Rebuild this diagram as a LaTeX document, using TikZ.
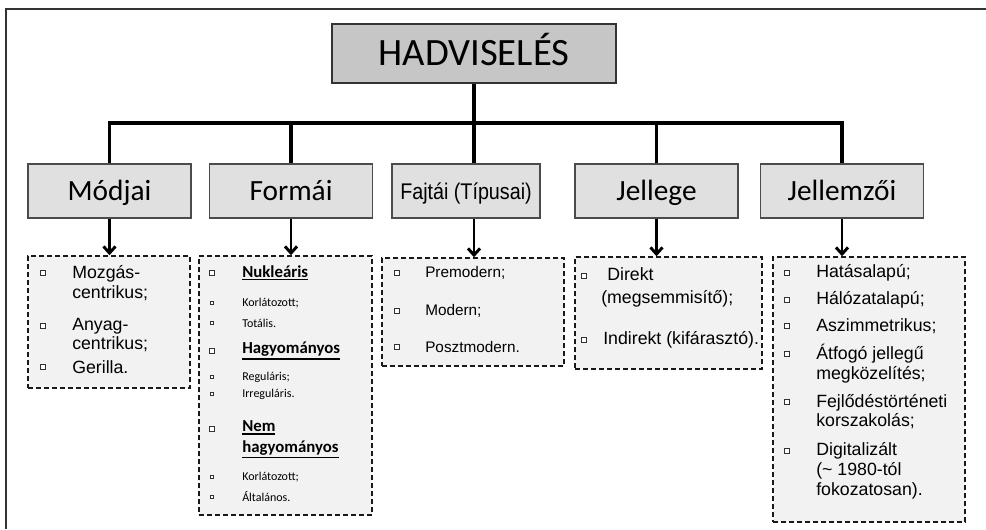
\documentclass[tikz,border=0pt]{standalone}
\usepackage{fontspec}
\setmainfont{Liberation Sans}
\newfontfamily\calfont{Carlito}
\newfontfamily\narrowfont[FakeStretch=0.87]{Liberation Sans}
\newcommand{\thickul}[1]{\vtop{\hbox{#1}\kern1pt\hrule height 1.1pt}}
\usetikzlibrary{arrows.meta, shadows}
\definecolor{topgray}{RGB}{198,198,198}
\definecolor{catgray}{RGB}{224,224,224}
\definecolor{listgray}{RGB}{242,242,242}
\definecolor{edgegray}{RGB}{75,75,75}
\tikzstyle{topbox} = [rectangle, draw = black!80, fill = topgray, line width = 1.5pt, minimum width = 213pt, minimum height = 44pt, inner sep = 0pt, text height = 21pt, text depth = 3pt, font = \calfont\fontsize{29}{34}\selectfont, drop shadow = {shadow xshift = 1pt, shadow yshift = -1pt, opacity = 1, fill = black!70}]
\tikzstyle{catbox} = [rectangle, draw = edgegray, fill = catgray, line width = 1.1pt, minimum width = 122pt, minimum height = 40.5pt, inner sep = 0pt, text height = 16.5pt, text depth = 2.4pt, font = \calfont\fontsize{22}{26}\selectfont]
\tikzstyle{listbox} = [rectangle, draw = black!90, fill = listgray, dash pattern = on 3.5pt off 2.5pt, line width = 1.1pt, inner sep = 0pt]
\tikzstyle{bul} = [rectangle, draw = black!80, fill = white, line width = 0.6pt, minimum size = 3.4pt, inner sep = 0pt]
\tikzstyle{sbul} = [bul, minimum size = 2.7pt]
\tikzstyle{itm} = [anchor = west, inner sep = 0pt, align = left, font = \fontsize{13.3}{14.8}\selectfont]
\tikzstyle{fitm} = [itm, font = \fontsize{11.5}{14}\selectfont]
\tikzstyle{headitem} = [itm, font = \calfont\bfseries\fontsize{12.6}{15.75}\selectfont]
\tikzstyle{subitem} = [itm, font = \calfont\fontsize{9}{11}\selectfont]
\tikzstyle{conn} = [line width = 2.4pt]
\tikzstyle{arr} = [line width = 2.2pt, -{Straight Barb[length = 5pt, width = 9pt]}]

\begin{document}
\begin{tikzpicture}[x = 0.75pt, y = -0.75pt]
    \useasboundingbox (0, 0) rectangle (986, 529);
    \draw [line width = 0.9pt, black!80] (6, 529) -- (6, 9) -- (986, 9);

    \node (top) at (474, 53.5) [topbox] {HADVISELÉS};
    \node (modjai) at (109.5, 191) [catbox] {Módjai};
    \node (formai) at (291, 191) [catbox] {Formái};
    \node (fajtai) at (466, 191) [catbox, minimum width = 111pt, text height = 13.6pt, text depth = 1.4pt, font = \narrowfont\fontsize{17}{20}\selectfont] {Fajtái (Típusai)};
    \node (jellege) at (656.5, 191) [catbox] {Jellege};
    \node (jellemzoi) at (842, 191) [catbox] {Jellemzői};

    \coordinate (bar) at (474, 123);
    \draw [conn] (top.south) -- (top.south |- fajtai.north);
    \draw [conn] (modjai.north) |- (bar) -| (jellemzoi.north);
    \draw [conn] (formai.north) -- (formai.north |- bar);
    \draw [conn] (jellege.north) -- (jellege.north |- bar);

    \node (modlist) at (109, 322) [listbox, minimum width = 121.5pt, minimum height = 99pt] {};
    \node (formlist) at (285.5, 385.5) [listbox, minimum width = 129.75pt, minimum height = 194.25pt] {};
    \node (fajlist) at (473, 312) [listbox, minimum width = 136.5pt, minimum height = 81pt] {};
    \node (jelllist) at (668.5, 313) [listbox, minimum width = 140.25pt, minimum height = 84pt] {};
    \node (jellemlist) at (869, 389.5) [listbox, minimum width = 144pt, minimum height = 198.75pt] {};

    \draw [arr] (modjai.south) -- (modjai.south |- modlist.north);
    \draw [arr] (formai.south) -- (formai.south |- formlist.north);
    \draw [arr] (top.south |- fajtai.south) -- (top.south |- fajlist.north);
    \draw [arr] (jellege.south) -- (jellege.south |- jelllist.north);
    \draw [arr] (jellemzoi.south) -- (jellemzoi.south |- jellemlist.north);

    % Modjai
    \node (m1b) at (43, 273) [bul] {};
    \node (m1) at (72, 283) [itm] {Mozgás-\\centrikus;};
    \node (m2b) at (43, 326) [bul] {};
    \node (m2) at (72, 335) [itm] {Anyag-\\centrikus;};
    \node (m3b) at (43, 367) [bul] {};
    \node (m3) at (72, 367) [itm] {Gerilla.};

    % Formai
    \node (f1b) at (212, 273) [bul] {};
    \node (f1) at (242, 273) [headitem] {\thickul{Nukleáris}};
    \node (f2b) at (212, 303) [sbul] {};
    \node (f2) at (242, 303) [subitem] {Korlátozott;};
    \node (f3b) at (212, 323) [sbul] {};
    \node (f3) at (242, 323) [subitem] {Totális.};
    \node (f4b) at (212, 351) [bul] {};
    \node (f4) at (242, 351) [headitem] {\thickul{Hagyományos}};
    \node (f5b) at (212, 377) [sbul] {};
    \node (f5) at (242, 377) [subitem] {Reguláris;};
    \node (f6b) at (212, 394) [sbul] {};
    \node (f6) at (242, 394) [subitem] {Irreguláris.};
    \node (f7b) at (212, 429) [bul] {};
    \node (f7) at (242, 439.5) [headitem] {\thickul{Nem}\\\thickul{hagyományos}};
    \node (f8b) at (212, 477) [sbul] {};
    \node (f8) at (242, 477) [subitem] {Korlátozott;};
    \node (f9b) at (212, 497) [sbul] {};
    \node (f9) at (242, 497) [subitem] {Általános.};

    % Fajtai
    \node (p1b) at (397, 273) [bul] {};
    \node (p1) at (425, 273) [fitm] {Premodern;};
    \node (p2b) at (397, 311) [bul] {};
    \node (p2) at (425, 311) [fitm] {Modern;};
    \node (p3b) at (397, 347) [bul] {};
    \node (p3) at (425, 347) [fitm] {Posztmodern.};

    % Jellege
    \node (d1b) at (584, 276) [bul] {};
    \node (d1) at (601, 287.5) [itm, font = \fontsize{13.3}{17.25}\selectfont] {\hspace*{4.5pt}Direkt\\(megsemmisítő);};
    \node (d2b) at (584, 340) [bul] {};
    \node (d2) at (603, 340) [itm] {Indirekt (kifárasztó).};

    % Jellemzoi
    \node (h1b) at (787, 273) [bul] {};
    \node (h1) at (816, 273) [itm] {Hatásalapú;};
    \node (h2b) at (787, 300) [bul] {};
    \node (h2) at (816, 300) [itm] {Hálózatalapú;};
    \node (h3b) at (787, 326) [bul] {};
    \node (h3) at (816, 326) [itm] {Aszimmetrikus;};
    \node (h4b) at (787, 354) [bul] {};
    \node (h4) at (816, 363.5) [itm] {Átfogó jellegű\\megközelítés;};
    \node (h5b) at (787, 402) [bul] {};
    \node (h5) at (816, 411.5) [itm] {Fejlődéstörténeti\\korszakolás;};
    \node (h6b) at (787, 451) [bul] {};
    \node (h6) at (816, 471) [itm] {Digitalizált\\(\textasciitilde{} 1980-tól\\fokozatosan).};
\end{tikzpicture}
\end{document}
